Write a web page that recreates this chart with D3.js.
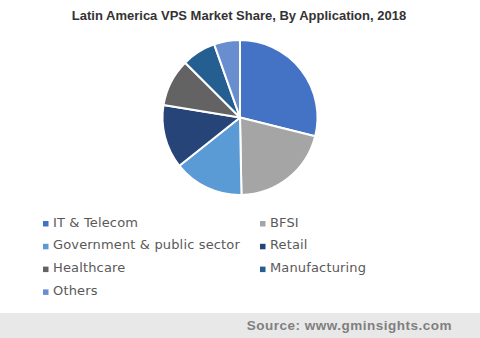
<!DOCTYPE html>
<html>
<head>
<meta charset="utf-8">
<script src="https://cdn.jsdelivr.net/npm/d3@7"></script>
<style>
html,body{margin:0;padding:0;background:#fff;}
svg{display:block;}
</style>
</head>
<body>
<svg id="chart" width="480" height="338"></svg>
<script>
const title = "Latin America VPS Market Share, By Application, 2018";
const categories = ["IT & Telecom","BFSI","Government & public sector","Retail","Healthcare","Manufacturing","Others"];
const values = [28.9, 20.8, 14.6, 13.3, 9.9, 7.1, 5.4];
const colors = ["#4472C4","#A5A5A5","#5B9BD5","#264478","#636363","#255E91","#698ED0"];
const source = "Source: www.gminsights.com";

const svg = d3.select("#chart");
const W = 480, H = 338;

svg.append("text")
  .attr("x", 239).attr("y", 20)
  .attr("text-anchor", "middle")
  .attr("font-family", "Liberation Sans, Arial, sans-serif")
  .attr("font-weight", "bold")
  .attr("font-size", 13)
  .attr("fill", "#333333")
  .text(title);

const cx = 240, cy = 117.5, r = 77.5;
const pie = d3.pie().sort(null).value(d => d.v);
const arc = d3.arc().innerRadius(0).outerRadius(r);
const data = categories.map((c, i) => ({c, v: values[i], col: colors[i]}));

const g = svg.append("g").attr("transform", `translate(${cx},${cy})`);
g.selectAll("path").data(pie(data)).join("path")
  .attr("d", arc)
  .attr("fill", d => d.data.col)
  .attr("stroke", "#fff")
  .attr("stroke-width", 2)
  .attr("stroke-linejoin", "round");

const color = d3.scaleOrdinal().domain(categories).range(colors);
const colX = d3.scaleOrdinal().domain([0,1]).range([43, 260]);
const rowY = d3.scaleLinear().domain([0,1]).range([222, 244.8]);

const leg = svg.append("g");
const items = leg.selectAll("g").data(categories).join("g")
  .attr("transform", (d, i) => `translate(${colX(i % 2)},${rowY(Math.floor(i / 2))})`);
items.append("rect")
  .attr("x", 0).attr("y", -1).attr("width", 5.5).attr("height", 5.5)
  .attr("fill", d => color(d));
items.append("text")
  .attr("x", 10).attr("y", 4.6)
  .attr("font-family", "DejaVu Sans, Verdana, sans-serif")
  .attr("font-size", 13)
  .attr("letter-spacing", 0.15)
  .attr("fill", "#595959")
  .text(d => d);

svg.append("rect")
  .attr("x", 0).attr("y", 313).attr("width", W).attr("height", H - 313)
  .attr("fill", "#E8E8E8");
svg.append("text")
  .attr("x", 452).attr("y", 330)
  .attr("text-anchor", "end")
  .attr("font-family", "Liberation Sans, Arial, sans-serif")
  .attr("font-weight", "bold")
  .attr("font-size", 13.5)
  .attr("letter-spacing", 0.5)
  .attr("fill", "#7F7F7F")
  .text(source);
</script>
</body>
</html>
